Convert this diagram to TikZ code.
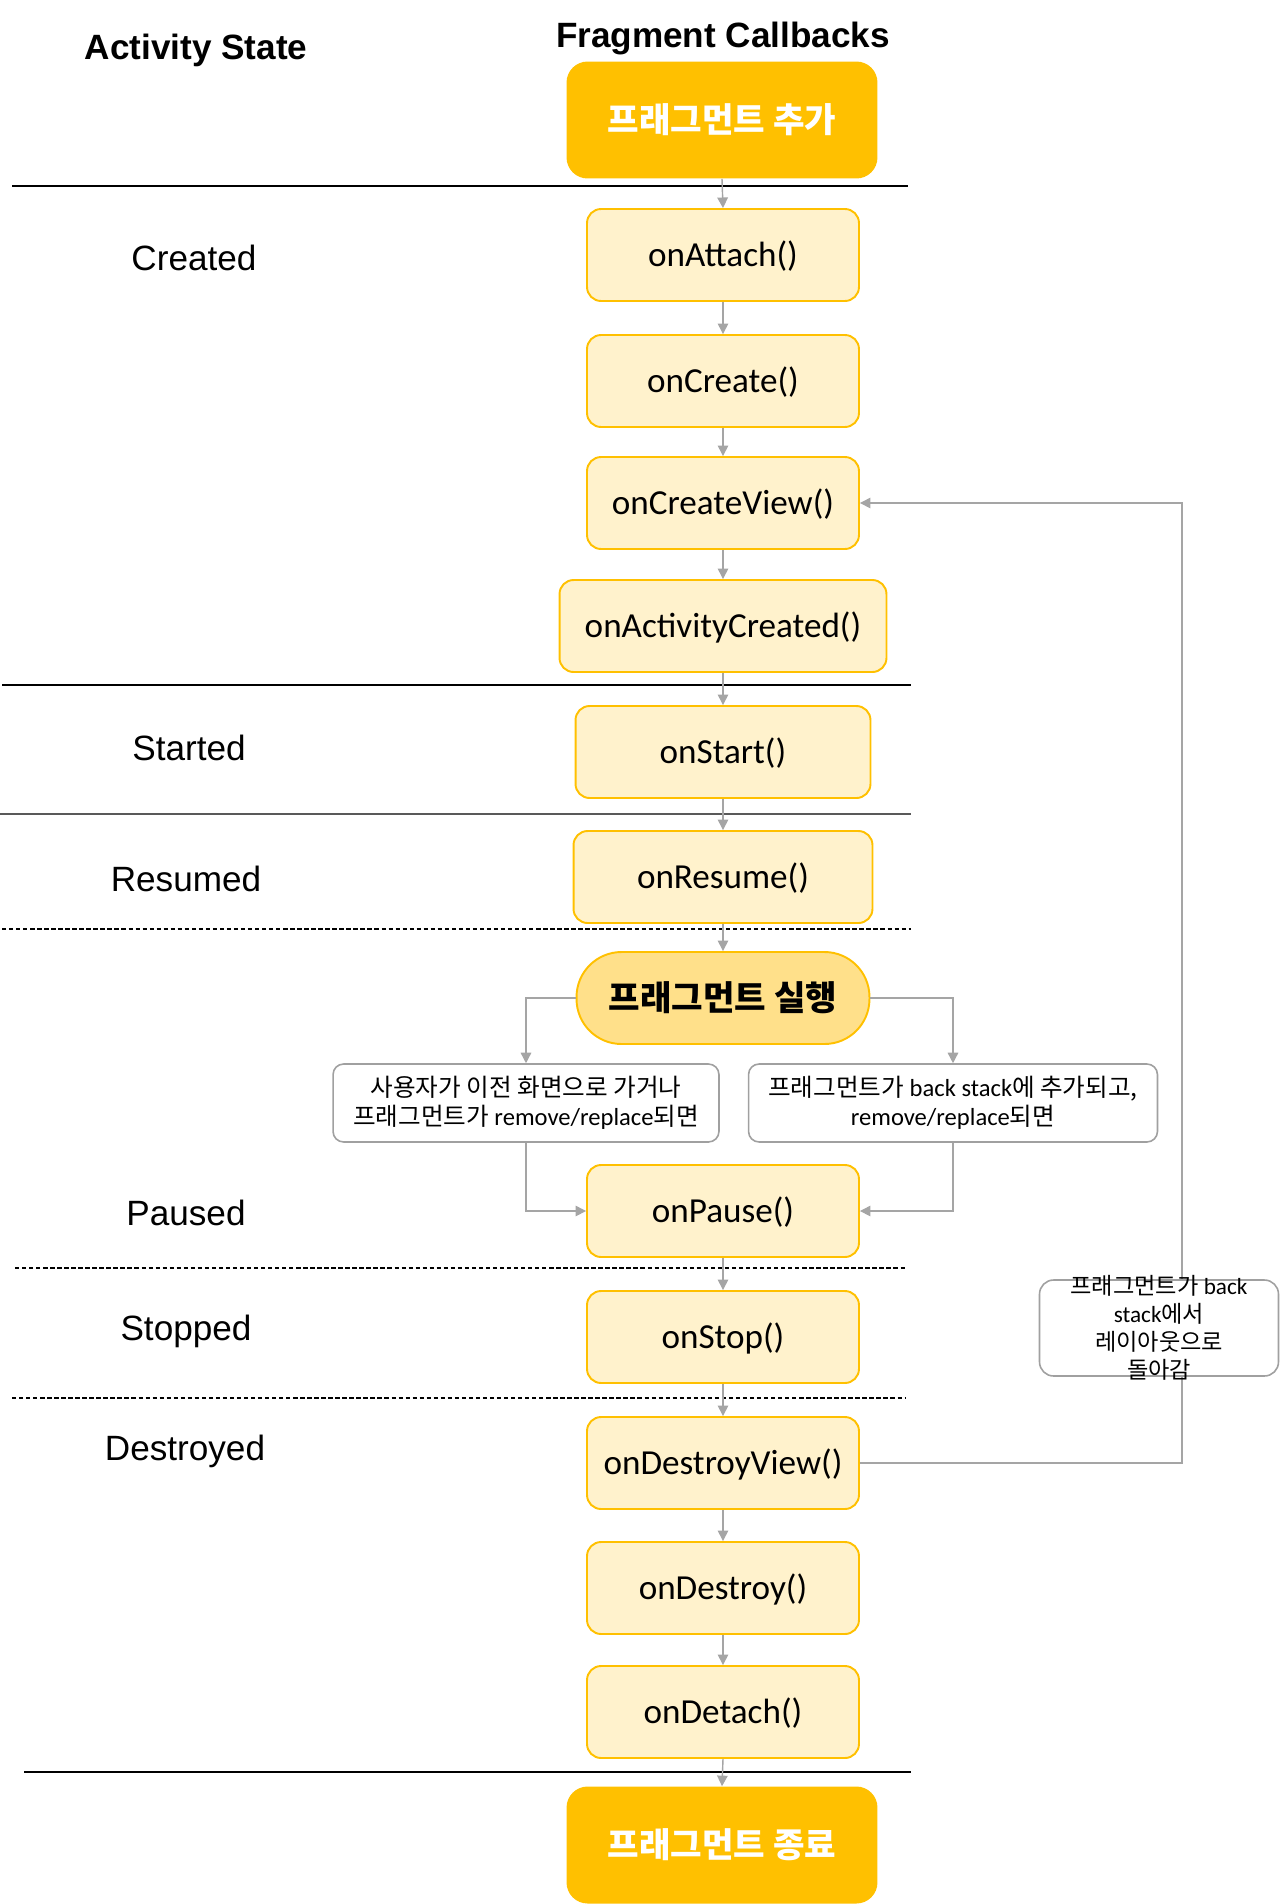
\documentclass[tikz,border=0pt]{standalone}
\usepackage{fontspec}
\setmainfont{Carlito}
\newfontfamily\arialfont{Liberation Sans}
\newfontfamily\krfont{Noto Sans CJK KR}
\usepackage{tikz}
\usetikzlibrary{positioning, arrows.meta}
\definecolor{fragAmber}{RGB}{255, 192, 0}
\definecolor{fragLight}{RGB}{255, 242, 204}
\definecolor{fragRun}{RGB}{255, 224, 138}
\definecolor{fragGray}{RGB}{165, 165, 165}
\definecolor{noteGray}{RGB}{160, 160, 160}
\tikzset{
  endbox/.style={rectangle, draw=none, fill=fragAmber,
                 minimum width=6.22cm, minimum height=2.34cm,
                 align=center, rounded corners=12pt, text=white,
                 font=\krfont\bfseries\fontsize{19.5}{24}\selectfont},
  cbbox/.style={rectangle, draw=fragAmber, fill=fragLight, line width=1.1pt,
                minimum width=5.44cm, minimum height=1.84cm,
                align=center, rounded corners=8pt, text depth=0.15em,
                font=\fontsize{20}{24}\selectfont},
  runbox/.style={rectangle, draw=fragAmber, fill=fragRun, line width=1.1pt,
                 minimum width=5.86cm, minimum height=1.84cm,
                 align=center, rounded corners=0.9cm,
                 font=\krfont\bfseries\fontsize{19.5}{24}\selectfont},
  condbox/.style={rectangle, draw=noteGray, fill=white, line width=0.9pt,
                  minimum height=1.56cm, inner sep=2pt,
                  align=center, rounded corners=6pt,
                  font=\fontsize{14}{16.5}\selectfont},
  statelbl/.style={font=\arialfont\fontsize{20}{24}\selectfont},
  headlbl/.style={font=\arialfont\bfseries\fontsize{20}{24}\selectfont},
}

\begin{document}
\begin{tikzpicture}[
    x=0.02cm, y=-0.02cm,
    flow/.style={-{Triangle[width=6pt,length=6pt]}, draw=fragGray, line width=0.8pt},
    sepline/.style={black, line width=0.6pt},
    sepdash/.style={black, line width=0.6pt, dash pattern=on 2.5pt off 1.5pt},
  ]
    \useasboundingbox (0,0) rectangle (1280,1904);

    % Headings
    \node[headlbl] (acthead) at (196,50) {Activity State};
    \node[headlbl] (fraghead) at (723,38) {Fragment Callbacks};

    % State separators
    \draw[sepline] (12,186) -- (908,186);
    \draw[sepline] (2,685) -- (911,685);
    \draw[sepline, black!65, line width=1pt] (0,814) -- (911,814);
    \draw[sepdash] (2,929) -- (911,929);
    \draw[sepdash] (15,1268) -- (906,1268);
    \draw[sepdash] (12,1398) -- (906,1398);
    \draw[sepline] (24,1772) -- (911,1772);

    % Activity states
    \node[statelbl] (created) at (194,258) {Created};
    \node[statelbl] (started) at (189,748) {Started};
    \node[statelbl] (resumed) at (186,879) {Resumed};
    \node[statelbl] (paused) at (186,1213) {Paused};
    \node[statelbl] (stopped) at (186,1331) {Stopped};
    \node[statelbl] (destroyed) at (185,1451) {Destroyed};

    % Callbacks
    \node[endbox] (added) at (722,120) {프래그먼트 추가};
    \node[cbbox] (attach) at (723,255) {onAttach()};
    \node[cbbox] (create) at (723,381) {onCreate()};
    \node[cbbox] (createview) at (723,503) {onCreateView()};
    \node[cbbox, minimum width=6.54cm] (actcreated) at (723,626) {onActivityCreated()};
    \node[cbbox, minimum width=5.9cm] (start) at (723,752) {onStart()};
    \node[cbbox, minimum width=5.98cm] (resume) at (723,877) {onResume()};
    \node[runbox] (running) at (723,998) {프래그먼트 실행};

    \node[condbox, minimum width=7.72cm] (userback) at (526,1103)
         {{\krfont 사용자가 이전 화면으로 가거나}\\{\krfont 프래그먼트가} remove/replace{\krfont 되면}};
    \node[condbox, minimum width=8.18cm] (backstack) at (953,1103)
         {{\krfont 프래그먼트가} back stack{\krfont 에 추가되고,}\\remove/replace{\krfont 되면}};

    \node[cbbox] (pause) at (723,1211) {onPause()};
    \node[cbbox] (stop) at (723,1337) {onStop()};
    \node[cbbox] (destroyview) at (723,1463) {onDestroyView()};
    \node[cbbox] (destroy) at (723,1588) {onDestroy()};
    \node[cbbox] (detach) at (723,1712) {onDetach()};
    \node[endbox] (ended) at (722,1845) {프래그먼트 종료};

    % Connections
    \draw[flow] (added.south) -- (attach.north);
    \draw[flow] (attach.south) -- (create.north);
    \draw[flow] (create.south) -- (createview.north);
    \draw[flow] (createview.south) -- (actcreated.north);
    \draw[flow] (actcreated.south) -- (start.north);
    \draw[flow] (start.south) -- (resume.north);
    \draw[flow] (resume.south) -- (running.north);
    \draw[flow] (running.west) -| (userback.north);
    \draw[flow] (running.east) -| (backstack.north);
    \draw[flow] (userback.south) |- (pause.west);
    \draw[flow] (backstack.south) |- (pause.east);
    \draw[flow] (pause.south) -- (stop.north);
    \draw[flow] (stop.south) -- (destroyview.north);
    \draw[flow] (destroyview.south) -- (destroy.north);
    \draw[flow] (destroy.south) -- (detach.north);
    \draw[flow] (detach.south) -- (ended.north);

    % Back stack loop
    \coordinate (loopcol) at (1182,0);
    \draw[flow] (destroyview.east) -- (destroyview.east -| loopcol)
                -- (createview.east -| loopcol) -- (createview.east);
    \node[rectangle, draw=noteGray, fill=white, line width=0.9pt,
          minimum width=4.78cm, minimum height=1.92cm, rounded corners=8pt,
          label={[align=center, font=\fontsize{13.2}{16}\selectfont]center:{{\krfont 프래그먼트가} back\\stack{\krfont 에서}\\{\krfont 레이아웃으로}\\{\krfont 돌아감}}}]
         (returnnote) at (1159,1328) {};
\end{tikzpicture}
\end{document}
